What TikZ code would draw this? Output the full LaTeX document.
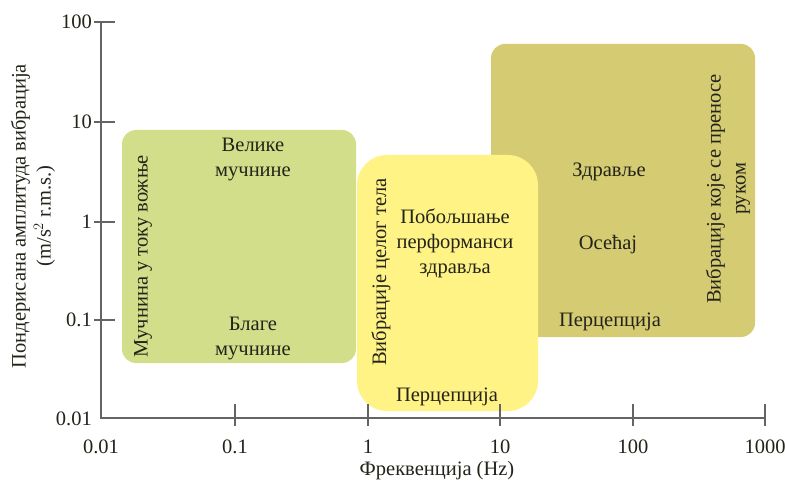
\documentclass[tikz,border=0pt]{standalone}
\usepackage{fontspec}
\setmainfont{Liberation Serif}
\usetikzlibrary{positioning}
\definecolor{sickgreen}{RGB}{211,222,139}
\definecolor{bodyyellow}{RGB}{255,243,133}
\definecolor{handolive}{RGB}{213,203,114}
\definecolor{axisgray}{RGB}{100,100,100}
\definecolor{inkdark}{RGB}{35,35,25}
\def\lblfont{\fontsize{20.5}{25}\selectfont}

\begin{document}
\begin{tikzpicture}[x=1pt,y=-1pt,
	lbl/.style={font=\lblfont, text=inkdark, align=center, inner sep=0pt},
	ticklbl/.style={font=\lblfont, text=inkdark, inner sep=0pt},
	axisline/.style={draw=axisgray, line width=1.3pt}]
	%%%%% START %%%%%
	
	\useasboundingbox (0,0) rectangle (785,489);
	
	% zones
	\fill[handolive, rounded corners=14] (491,44) rectangle (755,337);
	\fill[sickgreen, rounded corners=14] (122,130) rectangle (356,363);
	\fill[bodyyellow, rounded corners=30] (357,155) rectangle (538,411);
	
	% axes
	\coordinate (top) at (101,22);
	\coordinate (orig) at (101,418);
	\coordinate (right) at (765,418);
	\draw[axisline] (top) -- (orig) -- (right);
	
	\foreach \v/\yy in {100/22,10/122,1/222,0.1/320}{
		\draw[axisline] (94,\yy) -- (115,\yy);
		\node[ticklbl, anchor=east] (y\yy) at (92,\yy) {\v};
	}
	\node[ticklbl, anchor=east] (y418) at (92,419) {0.01};
	
	\foreach \v/\xx in {0.1/235,1/368,10/500,100/633,1000/765}{
		\draw[axisline] (\xx,404) -- (\xx,426);
		\node[ticklbl] (x\xx) at (\xx,447) {\v};
	}
	\node[ticklbl] (x100) at (101,447) {0.01};
	
	\node[lbl] (xtitle) at (437,471) {Фреквенција (Hz)};
	\node[lbl, rotate=90] (ytitle) at (33,216) {Пондерисана амплитуда вибрација\\(m/s$^{2}$ r.m.s.)};
	
	% motion sickness
	\node[lbl, rotate=90] (motion) at (143,256) {Мучнина у току вожње};
	\node[lbl] (severe) at (253,160) {Велике\\мучнине};
	\node[lbl] (mild) at (253,339) {Благе\\мучнине};
	
	% whole body
	\node[lbl, rotate=90] (body) at (381,272) {Вибрације целог тела};
	\node[lbl] (improve) at (455,243) {Побољшање\\перформанси\\здравља};
	\node[lbl] (bodyperc) at (447,397) {Перцепција};
	
	% hand transmitted
	\node[lbl] (health) at (609,172) {Здравље};
	\node[lbl] (feel) at (608,245) {Осећај};
	\node[lbl] (handperc) at (610,322) {Перцепција};
	\node[lbl, rotate=90] (hand) at (728,189) {Вибрације које се преносе\\руком};
	
	%%%%% END %%%%%
\end{tikzpicture}
\end{document}
